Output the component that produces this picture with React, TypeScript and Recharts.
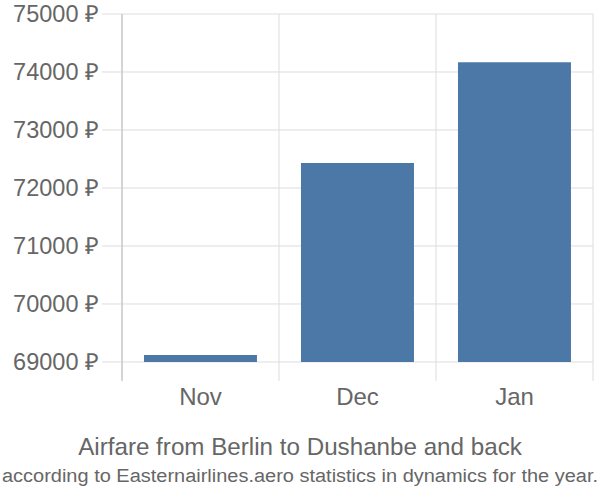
import React from "react";
import { BarChart, Bar, XAxis, YAxis, CartesianGrid } from "recharts";

const months = ["Nov", "Dec", "Jan"];
const prices = [69120, 72430, 74170];
const baseValue = 69000;
const yTicks = [69000, 70000, 71000, 72000, 73000, 74000, 75000];
const yDomain = [68672, 75000];
const titleText = "Airfare from Berlin to Dushanbe and back";
const subtitleText = "according to Easternairlines.aero statistics in dynamics for the year.";

const data = months.map((m, i) => ({ month: m, range: [baseValue, prices[i]] }));

const FONT = "'Liberation Sans', Arial, sans-serif";

const verticalGen = (props: any) => {
  const offset = props.offset;
  const n = months.length;
  const band = offset.width / n;
  const pts: number[] = [];
  for (let i = 1; i <= n; i++) pts.push(offset.left + band * i);
  return pts;
};

const horizontalGen = (props: any) => {
  const offset = props.offset;
  const [lo, hi] = yDomain;
  return yTicks.map((v) => offset.top + ((hi - v) / (hi - lo)) * offset.height);
};

export default function App() {
  return (
    <div style={{ position: "absolute", left: 0, top: 0, width: 600, height: 500, background: "#fff" }}>
      <BarChart
        width={600}
        height={420}
        data={data}
        margin={{ top: 14, right: 7, bottom: 0, left: 0 }}
        barCategoryGap="14%"
        style={{ overflow: "visible" }}
      >
        <CartesianGrid
          stroke="#dddddd"
          strokeWidth={1}
          verticalCoordinatesGenerator={verticalGen}
          horizontalCoordinatesGenerator={horizontalGen}
        />
        <XAxis
          dataKey="month"
          axisLine={false}
          tickLine={false}
          height={39}
          tickMargin={1}
          tick={{ fill: "#666", fontSize: 24, fontFamily: FONT }}
        />
        <YAxis
          type="number"
          domain={yDomain}
          ticks={yTicks}
          interval={0}
          width={122}
          tickSize={20}
          tickMargin={3}
          axisLine={{ stroke: "#aaaaaa" }}
          tickLine={{ stroke: "#dddddd" }}
          tickFormatter={(v: number) => `${v} ₽`}
          tick={{ fill: "#666", fontSize: 23.5, fontFamily: FONT }}
        />
        <Bar dataKey="range" fill="#4c78a8" isAnimationActive={false} />
      </BarChart>
      <svg width={600} height={80} style={{ position: "absolute", left: 0, top: 420, overflow: "visible" }}>
        <text
          x={300}
          y={35}
          textAnchor="middle"
          fill="#666"
          fontSize={24.2}
          fontFamily={FONT}
        >
          {titleText}
        </text>
        <text
          x={300}
          y={62}
          textAnchor="middle"
          fill="#666"
          fontSize={17.6}
          fontFamily={FONT}
          textLength={596}
          lengthAdjust="spacingAndGlyphs"
        >
          {subtitleText}
        </text>
      </svg>
    </div>
  );
}
